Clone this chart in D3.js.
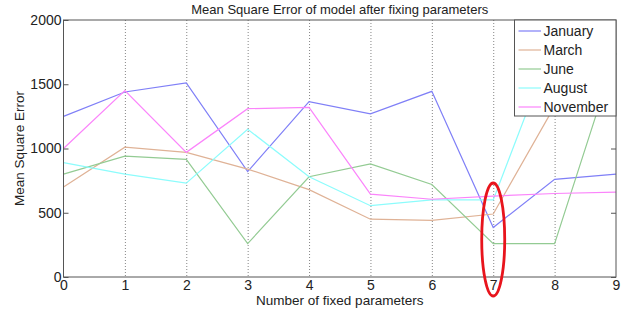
<!DOCTYPE html>
<html><head><meta charset="utf-8">
<script src="https://cdn.jsdelivr.net/npm/d3@7"></script>
<style>body{margin:0;background:#fff}svg{display:block}text{font-family:"Liberation Sans",Arial,sans-serif;fill:#222}</style>
</head><body><svg id="c" width="631" height="313"></svg>
<script>
const xValues = [0,1,2,3,4,5,6,7,8,9];
const january  = [1250,1440,1510,820,1365,1270,1445,385,760,800];
const march    = [700,1010,970,840,680,450,440,490,1330,1400];
const june     = [800,940,915,260,780,880,720,260,260,1740];
const august   = [890,800,730,1150,780,555,600,600,1850,1650];
const november = [1000,1450,970,1310,1320,645,605,630,650,660];
const seriesNames = ["January","March","June","August","November"];
const seriesColors = ["#7f7ff7","#dfb296","#93cb93","#8cfcfc","#fb84fb"];
const yTicks = [0,500,1000,1500,2000];
const titleText = "Mean Square Error of model after fixing parameters";
const xLabel = "Number of fixed parameters";
const yLabel = "Mean Square Error";
const highlightX = 7;

const allSeries = [january, march, june, august, november];
const svg = d3.select("#c");
const L = 63.5, R = 616, T = 20, B = 277;
const x = d3.scaleLinear().domain([0,9]).range([L,R]);
const y = d3.scaleLinear().domain([0,2000]).range([B,T]);

// grid
svg.append("g").selectAll("line").data(xValues.filter(v=>v>0&&v<9)).join("line")
  .attr("x1",d=>x(d)+0.5).attr("x2",d=>x(d)+0.5).attr("y1",T).attr("y2",B)
  .attr("stroke","#666").attr("stroke-width",0.8).attr("stroke-dasharray","1,2");

// lines
const line = d3.line().x((d,i)=>x(xValues[i])).y(d=>y(d));
svg.append("g").selectAll("path").data(allSeries).join("path")
  .attr("d",d=>line(d)).attr("fill","none")
  .attr("stroke",(d,i)=>seriesColors[i]).attr("stroke-width",1.2);

// box
svg.append("rect").attr("x",L).attr("y",T).attr("width",R-L).attr("height",B-T)
  .attr("fill","none").attr("stroke","#555").attr("stroke-width",1);

// axes
const yAxis = d3.axisLeft(y).tickValues(yTicks).tickSize(-5).tickPadding(4).tickFormat(d3.format("d"));
const gy = svg.append("g").attr("transform",`translate(${L},0)`).call(yAxis);
gy.select(".domain").remove();
gy.selectAll("line").attr("stroke","#555");
gy.selectAll("text").attr("font-size",14).attr("fill","#222").attr("dx","2");
const yAxisR = d3.axisRight(y).tickValues(yTicks).tickSize(-5).tickFormat("");
const gyr = svg.append("g").attr("transform",`translate(${R},0)`).call(yAxisR);
gyr.select(".domain").remove();
gyr.selectAll("line").attr("stroke","#555");

const xAxis = d3.axisBottom(x).tickValues(xValues).tickSize(0).tickPadding(3).tickFormat(d3.format("d"));
const gx = svg.append("g").attr("transform",`translate(0,${B})`).call(xAxis);
gx.select(".domain").remove();
gx.selectAll("text").attr("font-size",14).attr("fill","#222");

// labels
svg.append("text").attr("x",(L+R)/2).attr("y",14).attr("text-anchor","middle").attr("font-size",13).text(titleText);
svg.append("text").attr("x",(L+R)/2).attr("y",305).attr("text-anchor","middle").attr("font-size",13.5).text(xLabel);
svg.append("text").attr("transform",`translate(24,${(T+B)/2}) rotate(-90)`).attr("text-anchor","middle").attr("font-size",13.5).text(yLabel);

// legend
const lg = svg.append("g");
lg.append("rect").attr("x",514.5).attr("y",T).attr("width",R-514.5).attr("height",96)
  .attr("fill","#fff").attr("stroke","#555").attr("stroke-width",1);
seriesNames.forEach((n,i)=>{
  const yy = 31 + i*19;
  lg.append("line").attr("x1",518.5).attr("x2",541).attr("y1",yy).attr("y2",yy)
    .attr("stroke",seriesColors[i]).attr("stroke-width",1.2);
  lg.append("text").attr("x",543.5).attr("y",yy+5).attr("font-size",14).text(n);
});

// highlight ellipse
svg.append("ellipse").attr("cx",x(highlightX)).attr("cy",239.5).attr("rx",11.5).attr("ry",56.5)
  .attr("fill","none").attr("stroke","#e8141c").attr("stroke-width",2.8);
</script></body></html>
